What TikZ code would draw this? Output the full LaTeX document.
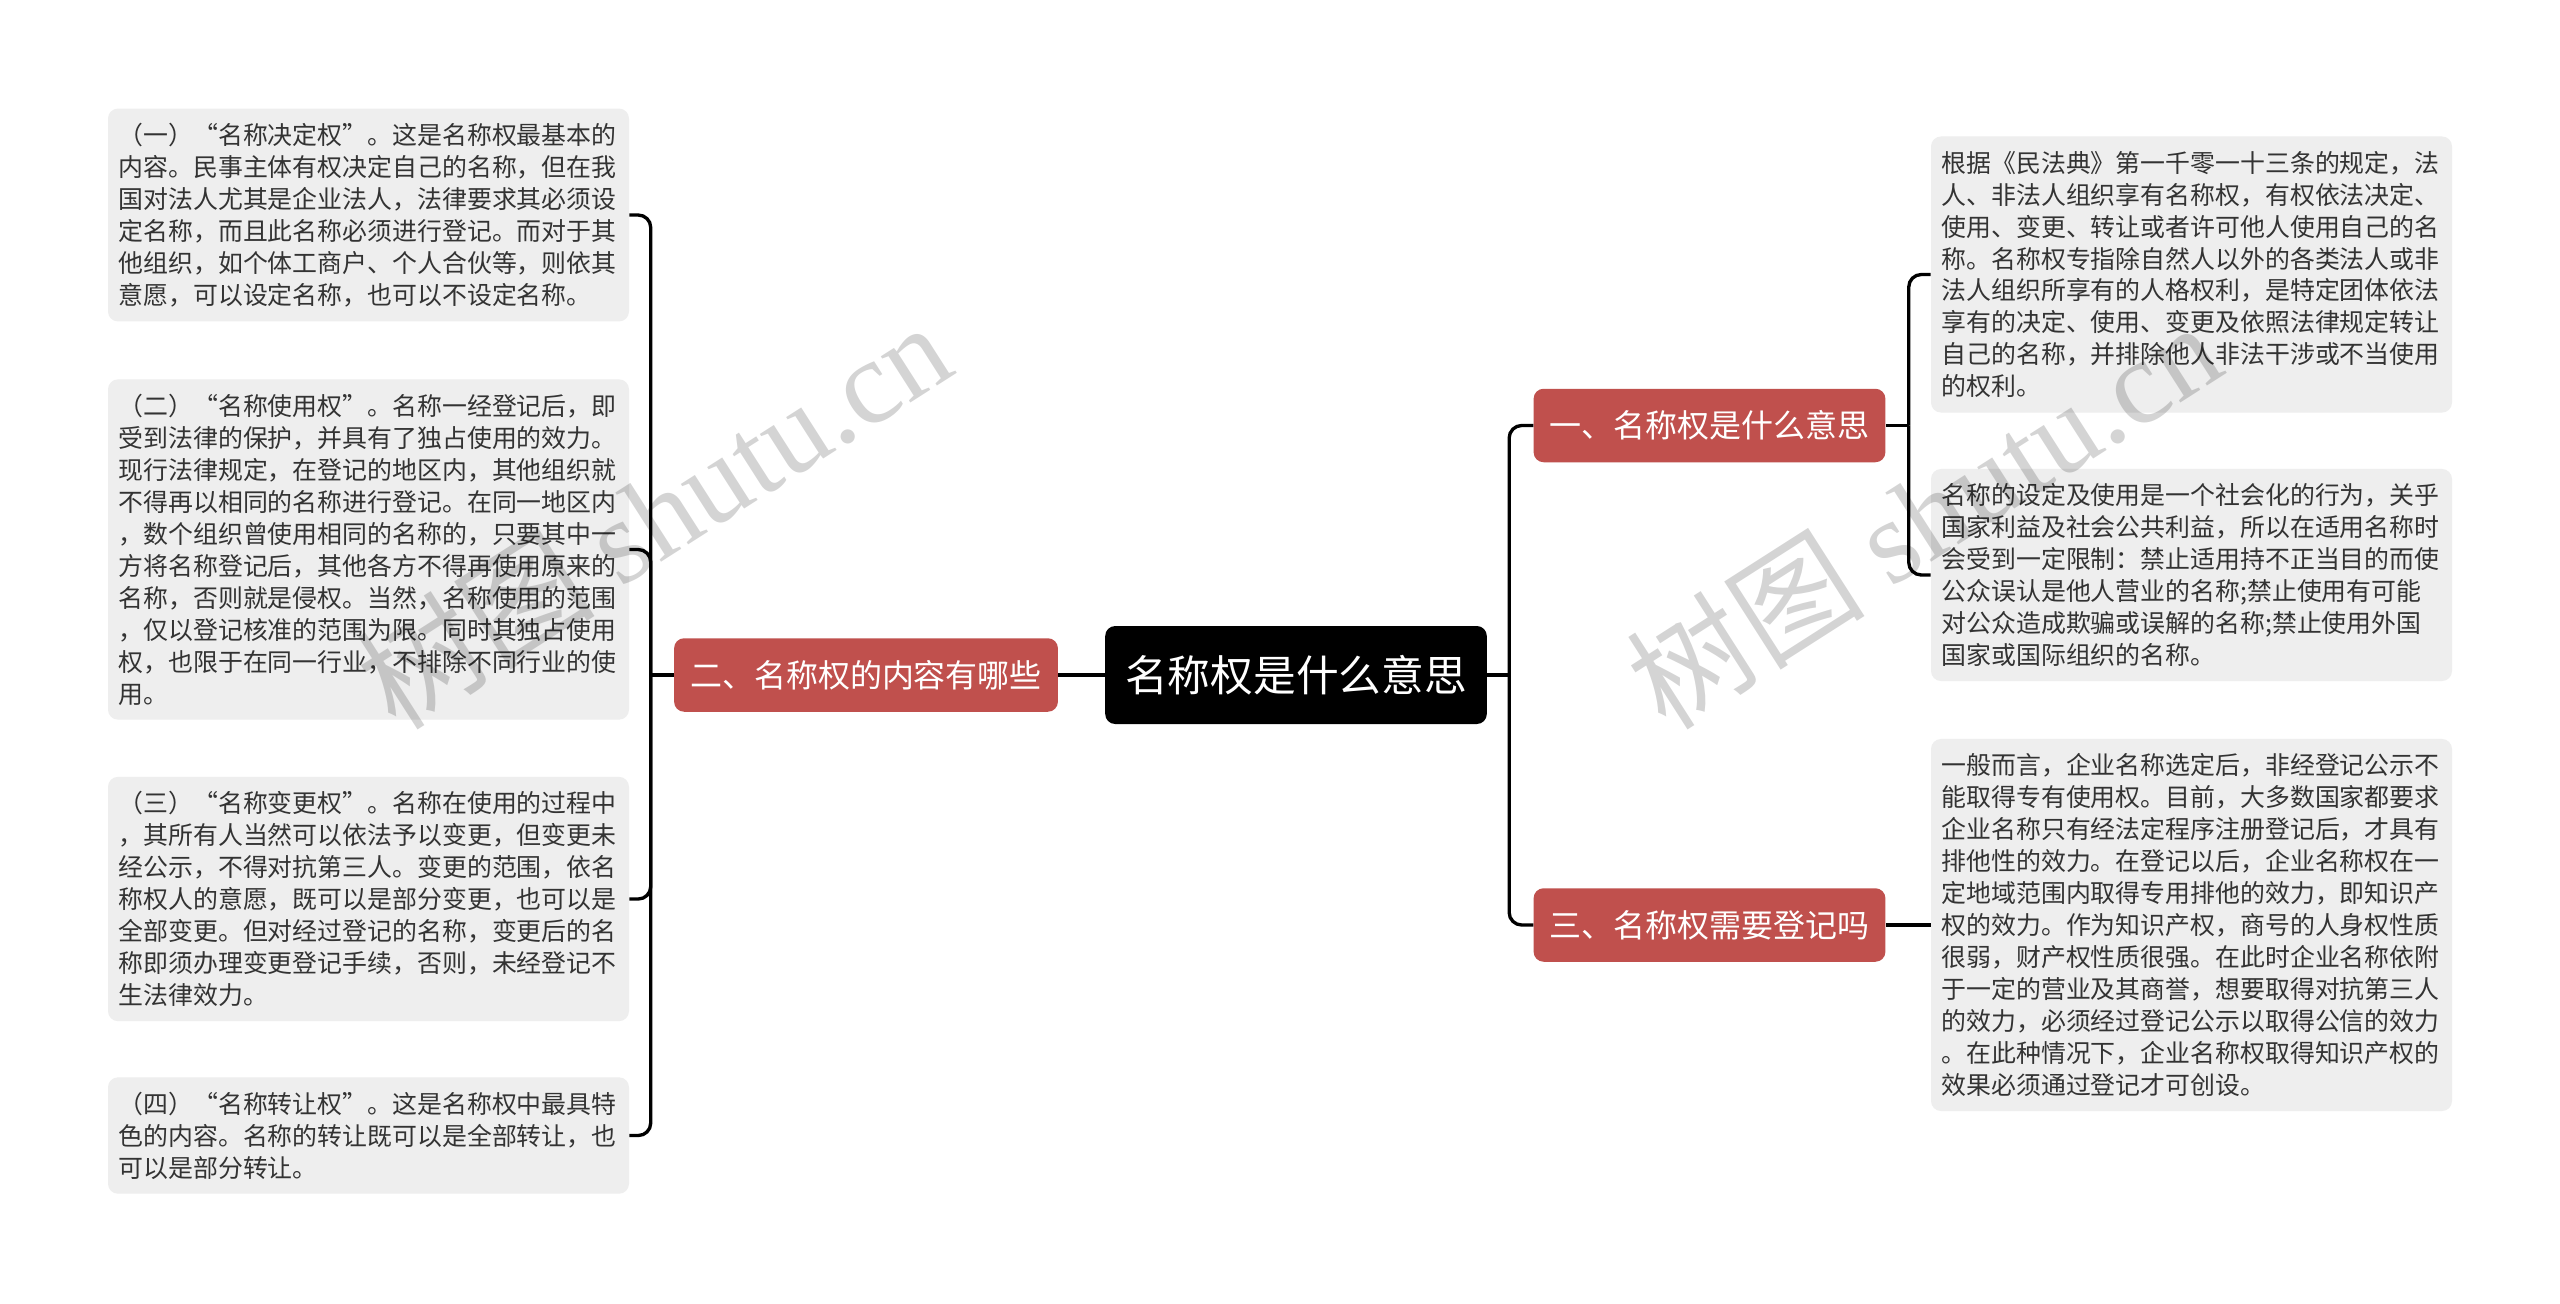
\documentclass[tikz,border=0pt]{standalone}
\usepackage{fontspec}
\setmainfont{Noto Sans CJK SC}
\newfontfamily\wmfont{Liberation Serif}
\definecolor{branchred}{HTML}{C0504D}
\definecolor{leafgray}{HTML}{EEEEEE}
\definecolor{leaftext}{HTML}{333333}
\tikzset{
	topicbox/.style={fill=black, text=white, rounded corners=0.2cm, inner xsep=0.4cm, minimum height=1.96cm, font=\fontsize{24.3}{28}\selectfont},
	branchbox/.style={fill=branchred, text=white, rounded corners=0.2cm, inner xsep=0.32cm, minimum height=1.47cm, font=\fontsize{18.2}{22}\selectfont},
	leafbox/.style={fill=leafgray, text=leaftext, rounded corners=0.2cm, text width=10cm, align=left, inner xsep=0.21cm, inner ysep=0.29cm, font=\fontsize{14.17}{18.2}\selectfont},
	conn/.style={line width=1.9pt, rounded corners=0.25cm},
	wmark/.style={text=black, opacity=0.17, rotate=32.6, font=\fontsize{68}{70}\selectfont},
}

\begin{document}
\begin{tikzpicture}% {{{ mind map
	\fill[white] (0,0) rectangle (51.2,-26.06);
	\useasboundingbox (0,0) rectangle (51.2,-26.06);

	\node[topicbox] (topic) at (25.92,-13.50) {名称权是什么意思};
	\node[branchbox] (qTwo) at (17.32,-13.50) {二、名称权的内容有哪些};
	\node[branchbox] (qOne) at (34.19,-8.51) {一、名称权是什么意思};
	\node[branchbox] (qThree) at (34.19,-18.50) {三、名称权需要登记吗};

	% left leaves
	\node[leafbox] (decide) at (7.37,-4.30) {（一）“名称决定权”。这是名称权最基本的\\
		内容。民事主体有权决定自己的名称，但在我\\
		国对法人尤其是企业法人，法律要求其必须设\\
		定名称，而且此名称必须进行登记。而对于其\\
		他组织，如个体工商户、个人合伙等，则依其\\
		意愿，可以设定名称，也可以不设定名称。};
	\node[leafbox] (use) at (7.37,-10.99) {（二）“名称使用权”。名称一经登记后，即\\
		受到法律的保护，并具有了独占使用的效力。\\
		现行法律规定，在登记的地区内，其他组织就\\
		不得再以相同的名称进行登记。在同一地区内\\
		，数个组织曾使用相同的名称的，只要其中一\\
		方将名称登记后，其他各方不得再使用原来的\\
		名称，否则就是侵权。当然，名称使用的范围\\
		，仅以登记核准的范围为限。同时其独占使用\\
		权，也限于在同一行业，不排除不同行业的使\\
		用。};
	\node[leafbox] (change) at (7.37,-17.98) {（三）“名称变更权”。名称在使用的过程中\\
		，其所有人当然可以依法予以变更，但变更未\\
		经公示，不得对抗第三人。变更的范围，依名\\
		称权人的意愿，既可以是部分变更，也可以是\\
		全部变更。但对经过登记的名称，变更后的名\\
		称即须办理变更登记手续，否则，未经登记不\\
		生法律效力。};
	\node[leafbox] (transfer) at (7.37,-22.71) {（四）“名称转让权”。这是名称权中最具特\\
		色的内容。名称的转让既可以是全部转让，也\\
		可以是部分转让。};

	% right leaves
	\node[leafbox] (law) at (43.83,-5.49) {根据《民法典》第一千零一十三条的规定，法\\
		人、非法人组织享有名称权，有权依法决定、\\
		使用、变更、转让或者许可他人使用自己的名\\
		称。名称权专指除自然人以外的各类法人或非\\
		法人组织所享有的人格权利，是特定团体依法\\
		享有的决定、使用、变更及依照法律规定转让\\
		自己的名称，并排除他人非法干涉或不当使用\\
		的权利。};
	\node[leafbox] (limit) at (43.83,-11.50) {名称的设定及使用是一个社会化的行为，关乎\\
		国家利益及社会公共利益，所以在适用名称时\\
		会受到一定限制：禁止适用持不正当目的而使\\
		公众误认是他人营业的名称;禁止使用有可能\\
		对公众造成欺骗或误解的名称;禁止使用外国\\
		国家或国际组织的名称。};
	\node[leafbox] (register) at (43.83,-18.50) {一般而言，企业名称选定后，非经登记公示不\\
		能取得专有使用权。目前，大多数国家都要求\\
		企业名称只有经法定程序注册登记后，才具有\\
		排他性的效力。在登记以后，企业名称权在一\\
		定地域范围内取得专用排他的效力，即知识产\\
		权的效力。作为知识产权，商号的人身权性质\\
		很弱，财产权性质很强。在此时企业名称依附\\
		于一定的营业及其商誉，想要取得对抗第三人\\
		的效力，必须经过登记公示以取得公信的效力\\
		。在此种情况下，企业名称权取得知识产权的\\
		效果必须通过登记才可创设。};

	% connectors
	\draw[conn] (topic.west) -- (qTwo.east);
	\draw[conn] (topic.east) -- ++(0.44,0) coordinate (busTopic);
	\draw[conn] (busTopic) |- (qOne.west);
	\draw[conn] (busTopic) |- (qThree.west);

	\draw[conn] (qTwo.west) -- ++(-0.46,0) coordinate (busTwo);
	\foreach \lf in {decide,use,change,transfer}
		\draw[conn] (busTwo) |- (\lf.east);

	\draw[conn] (qOne.east) -- ++(0.46,0) coordinate (busOne);
	\draw[conn] (busOne) |- (law.west);
	\draw[conn] (busOne) |- (limit.west);
	\draw[conn] (qThree.east) -- (register.west);

	% watermark
	\node[wmark] (wmLeft) at (13.06,-10.28) {树图 {\wmfont shutu.cn}};
	\node[wmark] (wmRight) at (38.46,-10.28) {树图 {\wmfont shutu.cn}};
\end{tikzpicture}
\end{document}
